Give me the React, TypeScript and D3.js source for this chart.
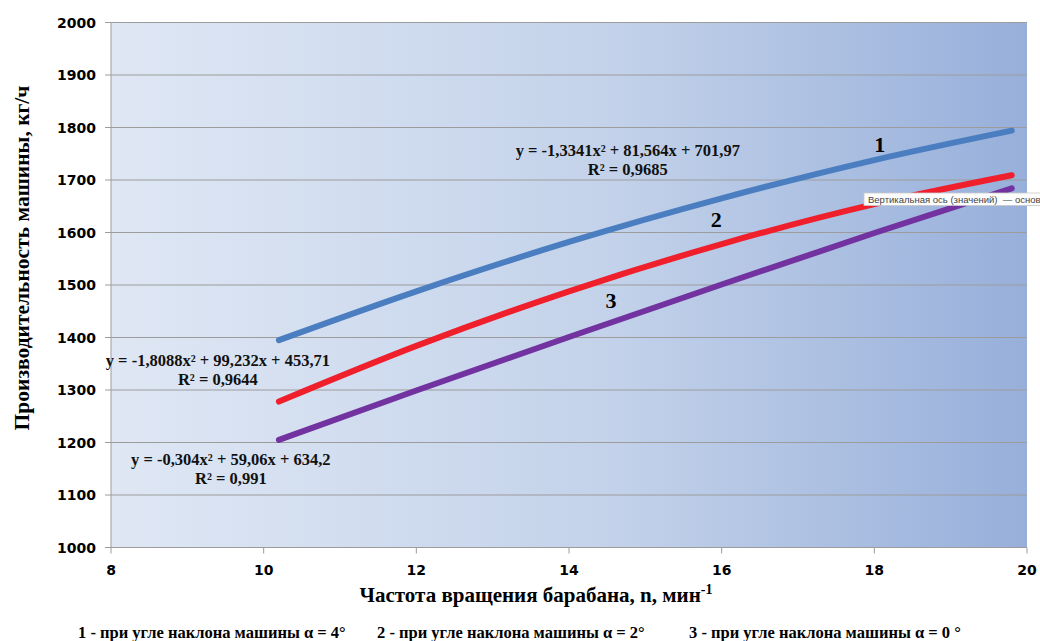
import { useEffect, useRef } from 'react';
import * as d3 from 'd3';

// frequency of drum rotation, min^-1
const xValues = [10.2, 12, 14, 16, 18, 19.8];
// productivity, kg/h
const series1 = [1395, 1488, 1582, 1665, 1738, 1794];
const series2 = [1278, 1384, 1488, 1578, 1654, 1709];
const series3 = [1205, 1299, 1401, 1501, 1599, 1684];

const yTicks = [1000, 1100, 1200, 1300, 1400, 1500, 1600, 1700, 1800, 1900, 2000];
const xTicks = [8, 10, 12, 14, 16, 18, 20];

const seriesColors = ['#4a7ec0', '#f01f2c', '#7233a0'];

const equations = [
  { line1: 'y = -1,3341x² + 81,564x + 701,97', line2: 'R² = 0,9685', x: 14.77, y: 1745 },
  { line1: 'y = -1,8088x² + 99,232x + 453,71', line2: 'R² = 0,9644', x: 9.40, y: 1345 },
  { line1: 'y = -0,304x² + 59,06x + 634,2', line2: 'R² = 0,991', x: 9.57, y: 1157 },
];

const curveLabels = [
  { text: '1', x: 18.07, y: 1768 },
  { text: '2', x: 15.93, y: 1626 },
  { text: '3', x: 14.55, y: 1470 },
];

const legendItems = [
  { text: '1 - при угле наклона машины α = 4°', x: 78 },
  { text: '2 - при угле наклона машины α = 2°', x: 377 },
  { text: '3 - при угле наклона машины α = 0 °', x: 689 },
];

export default function App() {
  const svgRef = useRef<SVGSVGElement>(null);

  useEffect(() => {
    if (!svgRef.current) return;
    document.body.style.margin = '0';

    const width = 1040;
    const height = 641;
    const margin = { top: 22.5, right: 13, bottom: 93.5, left: 111 };
    const innerW = width - margin.left - margin.right;
    const innerH = height - margin.top - margin.bottom;

    const svg = d3.select(svgRef.current);
    svg.selectAll('*').remove();

    const defs = svg.append('defs');
    const grad = defs.append('linearGradient')
      .attr('id', 'bg')
      .attr('x1', '0%').attr('x2', '100%')
      .attr('y1', '0%').attr('y2', '0%');
    grad.append('stop').attr('offset', '0%').attr('stop-color', '#dfe7f4');
    grad.append('stop').attr('offset', '55%').attr('stop-color', '#c3d2ea');
    grad.append('stop').attr('offset', '100%').attr('stop-color', '#97afda');

    const x = d3.scaleLinear().domain([8, 20]).range([0, innerW]);
    const y = d3.scaleLinear().domain([1000, 2000]).range([innerH, 0]);

    const g = svg.append('g')
      .attr('transform', `translate(${margin.left},${margin.top})`);

    g.append('rect')
      .attr('width', innerW)
      .attr('height', innerH)
      .attr('fill', 'url(#bg)');

    // horizontal gridlines + y tick marks
    g.selectAll('.grid')
      .data(yTicks)
      .enter().append('line')
      .attr('x1', -6)
      .attr('x2', innerW)
      .attr('y1', d => y(d))
      .attr('y2', d => y(d))
      .attr('stroke', '#9c9c9c')
      .attr('stroke-width', 1);

    // axes lines
    g.append('line')
      .attr('x1', 0).attr('x2', 0)
      .attr('y1', 0).attr('y2', innerH)
      .attr('stroke', '#9c9c9c');
    g.selectAll('.xtick')
      .data(xTicks)
      .enter().append('line')
      .attr('x1', d => x(d)).attr('x2', d => x(d))
      .attr('y1', innerH).attr('y2', innerH + 6)
      .attr('stroke', '#9c9c9c');

    const tickFont = 'DejaVu Sans, Verdana, sans-serif';

    g.selectAll('.ylab')
      .data(yTicks)
      .enter().append('text')
      .attr('x', -15)
      .attr('y', d => y(d))
      .attr('dy', '0.36em')
      .attr('text-anchor', 'end')
      .style('font-family', tickFont)
      .attr('font-weight', 'bold')
      .attr('font-size', 14)
      .attr('fill', '#000')
      .text(d => d);

    g.selectAll('.xlab')
      .data(xTicks)
      .enter().append('text')
      .attr('x', d => x(d))
      .attr('y', innerH + 22)
      .attr('dy', '0.36em')
      .attr('text-anchor', 'middle')
      .style('font-family', tickFont)
      .attr('font-weight', 'bold')
      .attr('font-size', 14)
      .attr('fill', '#000')
      .text(d => d);

    // curves
    const line = d3.line<number>()
      .x((_, i) => x(xValues[i]))
      .y(d => y(d))
      .curve(d3.curveMonotoneX);

    [series1, series2, series3].forEach((s, i) => {
      g.append('path')
        .datum(s)
        .attr('d', line)
        .attr('fill', 'none')
        .attr('stroke', seriesColors[i])
        .attr('stroke-width', 6)
        .attr('stroke-linecap', 'round');
    });

    const serif = 'Liberation Serif, Times New Roman, DejaVu Serif, serif';

    // trendline equations
    equations.forEach(eq => {
      const t = g.append('text')
        .attr('x', x(eq.x))
        .attr('y', y(eq.y))
        .attr('text-anchor', 'middle')
        .style('font-family', serif)
        .attr('font-weight', 'bold')
        .attr('font-size', 16.5)
        .attr('fill', '#111');
      t.append('tspan').attr('x', x(eq.x)).attr('dy', 0).text(eq.line1);
      t.append('tspan').attr('x', x(eq.x)).attr('dy', 19).text(eq.line2);
    });

    g.selectAll('.clab')
      .data(curveLabels)
      .enter().append('text')
      .attr('x', d => x(d.x))
      .attr('y', d => y(d.y))
      .attr('dy', '0.35em')
      .attr('text-anchor', 'middle')
      .style('font-family', serif)
      .attr('font-weight', 'bold')
      .attr('font-size', 22)
      .attr('fill', '#000')
      .text(d => d.text);

    // axis titles
    svg.append('text')
      .attr('transform', `translate(21,258) rotate(-90)`)
      .attr('text-anchor', 'middle')
      .attr('dy', '0.35em')
      .style('font-family', serif)
      .attr('font-weight', 'bold')
      .attr('font-size', 21.5)
      .text('Производительность машины, кг/ч');

    const xt = svg.append('text')
      .attr('x', 536)
      .attr('y', 602)
      .attr('text-anchor', 'middle')
      .style('font-family', serif)
      .attr('font-weight', 'bold')
      .attr('font-size', 21);
    xt.append('tspan').text('Частота вращения барабана, n, мин');
    xt.append('tspan').attr('dy', -8).attr('font-size', 14).text('-1');

    svg.selectAll('.leg')
      .data(legendItems)
      .enter().append('text')
      .attr('x', d => d.x)
      .attr('y', 638)
      .style('font-family', serif)
      .attr('font-weight', 'bold')
      .attr('font-size', 16.5)
      .text(d => d.text);

    // tooltip left over in the screenshot (cut by the right edge there)
    const tip = svg.append('g').attr('transform', 'translate(864,193)');
    tip.append('rect')
      .attr('width', 190)
      .attr('height', 12.5)
      .attr('fill', '#fdfdfd')
      .attr('stroke', '#c8c8c8')
      .attr('stroke-width', 0.8);
    tip.append('text')
      .attr('x', 4)
      .attr('y', 9.8)
      .style('font-family', 'Liberation Sans, Arial, sans-serif')
      .attr('font-size', 9.5)
      .attr('fill', '#444')
      .style('white-space', 'pre')
      .text('Вертикальная ось (значений)  — основн');
  }, []);

  return (
    <svg
      ref={svgRef}
      width={1040}
      height={641}
      style={{ display: 'block' }}
    />
  );
}
